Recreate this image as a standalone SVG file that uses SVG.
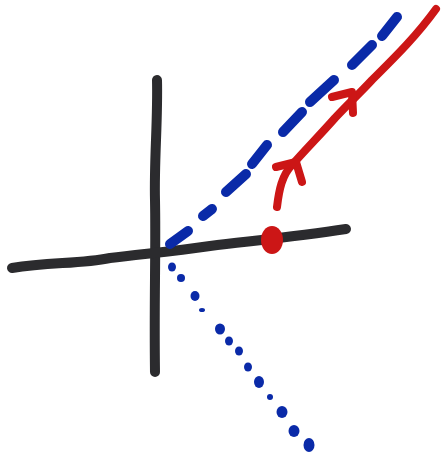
<svg xmlns="http://www.w3.org/2000/svg" width="441" height="464" viewBox="0 0 441 464">
<style>
.ax{fill:none;stroke:#2b2b2e;stroke-width:10;stroke-linecap:round;stroke-linejoin:round}
.bl{fill:none;stroke:#0a2aa8;stroke-width:10;stroke-linecap:round}
.rd{fill:none;stroke:#cc1616;stroke-width:8;stroke-linecap:round;stroke-linejoin:round}
.dot{fill:#0a2aa8}
</style>
<rect width="441" height="464" fill="#fff"/>
<g id="axes">
<path class="ax" d="M157,80 C158,120 154,160 155,200 C156,250 154,300 155,372"/>
<path class="ax" d="M12,268 C50,262 80,264 110,258 C140,254 170,252 210,246 C260,240 300,236 346,229"/>
</g>
<g id="connectors">
<g id="blue-dashed">
<path class="bl" d="M170,244 L188,231"/>
<path class="bl" d="M203,216 L212,209"/>
<path class="bl" d="M226,192 L246,174"/>
<path class="bl" d="M252,164 L267,145"/>
<path class="bl" d="M283,132 L302,112"/>
<path class="bl" d="M310,102 L334,80"/>
<path class="bl" d="M352,65 L372,45"/>
<path class="bl" d="M382,36 L397,17"/>
</g>
<g id="blue-dotted">
<ellipse class="dot" cx="172" cy="267" rx="4" ry="4.5"/>
<ellipse class="dot" cx="181" cy="278" rx="4" ry="4"/>
<ellipse class="dot" cx="195" cy="296" rx="4.5" ry="5"/>
<ellipse class="dot" cx="202" cy="310" rx="3" ry="2"/>
<ellipse class="dot" cx="220" cy="329" rx="5" ry="5.5"/>
<ellipse class="dot" cx="229" cy="341" rx="4" ry="4.5"/>
<ellipse class="dot" cx="239" cy="351" rx="4" ry="4.5"/>
<ellipse class="dot" cx="248" cy="367" rx="4" ry="4.5"/>
<ellipse class="dot" cx="259" cy="382" rx="5" ry="6"/>
<ellipse class="dot" cx="270" cy="397" rx="3" ry="3"/>
<ellipse class="dot" cx="282" cy="412" rx="5.5" ry="6"/>
<ellipse class="dot" cx="294" cy="431" rx="5.5" ry="6"/>
<ellipse class="dot" cx="309" cy="445" rx="5.5" ry="7"/>
</g>
<g id="red-arrow">
<path class="rd" d="M277,207 C279,190 282,175 292,165 C305,150 320,135 335,118 C350,102 358,95 372,80 C392,60 415,38 436,9"/>
<path class="rd" d="M276,167 L296,162 L302,182"/>
<path class="rd" d="M332,97 L352,92 L353,113"/>
</g>
<ellipse id="red-dot" cx="272" cy="240" rx="11" ry="14" fill="#cc1616"/>
</g>
</svg>
